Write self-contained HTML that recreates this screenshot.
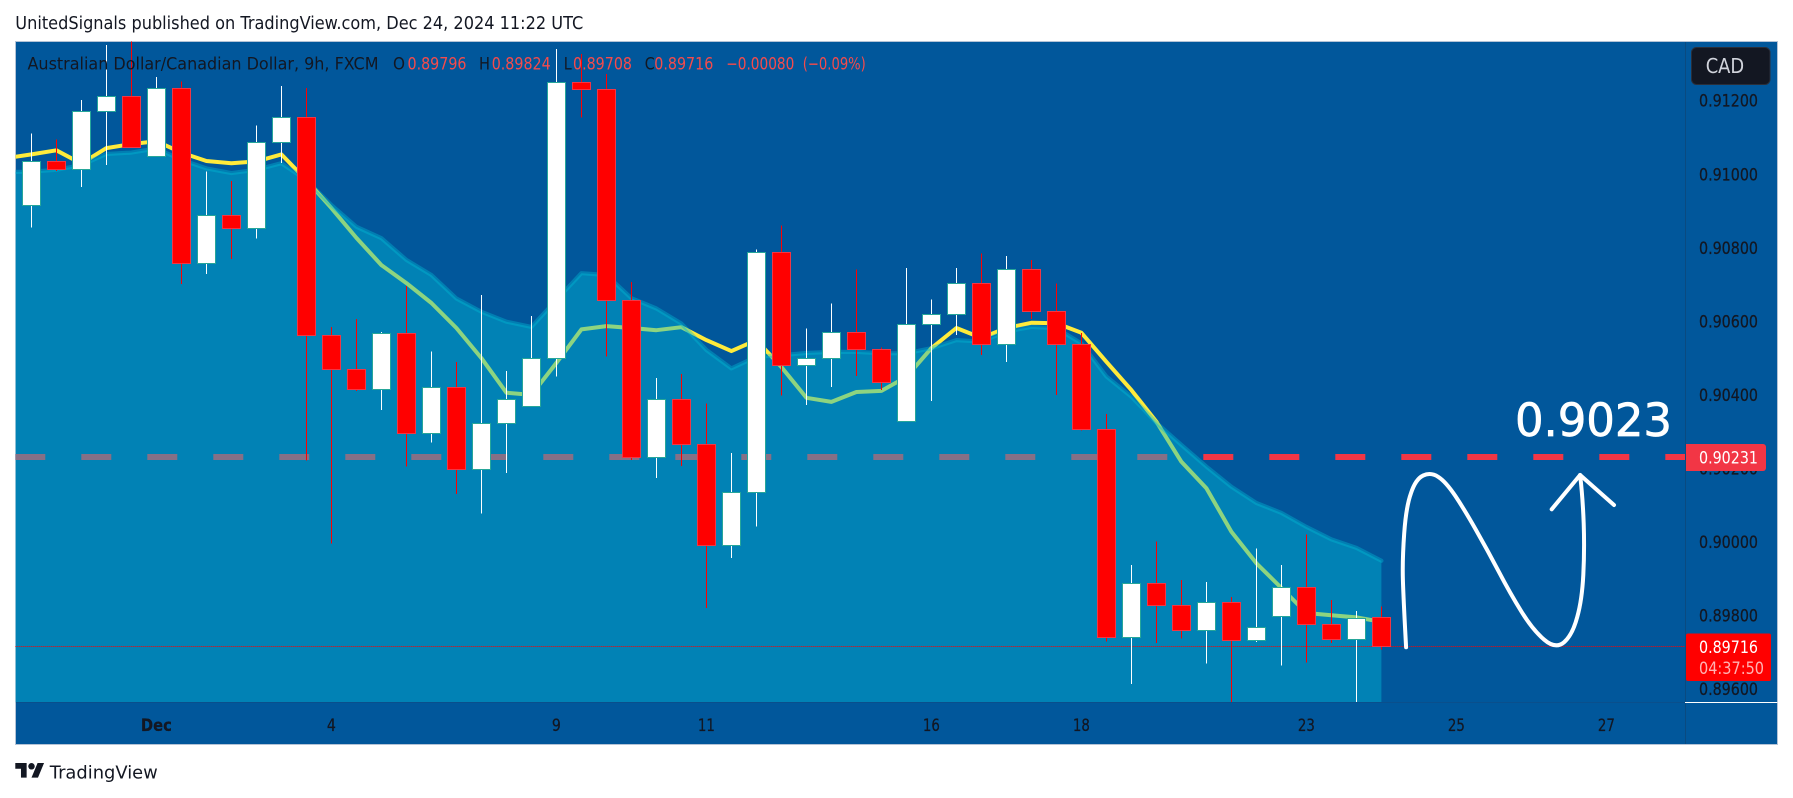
<!DOCTYPE html>
<html lang="en">
<head>
<meta charset="utf-8">
<title>AUD/CAD 9h chart</title>
<style>
html,body{margin:0;padding:0;background:#fff;width:1793px;height:798px;overflow:hidden}
svg{display:block}
text{font-family:"DejaVu Sans","Liberation Sans",sans-serif}
</style>
</head>
<body>
<svg id="chart" xmlns="http://www.w3.org/2000/svg" width="1793" height="798" viewBox="0 0 1793 798">
  <defs>
    <clipPath id="pane-clip"><rect x="15.5" y="41.5" width="1669.5" height="661"/></clipPath>
  </defs>
  <rect x="0" y="0" width="1793" height="798" fill="#ffffff"/>
  <text x="15.3" y="29" font-size="18" fill="#131722" textLength="568" lengthAdjust="spacingAndGlyphs">UnitedSignals published on TradingView.com, Dec 24, 2024 11:22 UTC</text>
  <rect x="15.5" y="41.5" width="1762" height="703" fill="#01579b" stroke="#b4c3d6" stroke-width="1"/>
  <g id="pane" clip-path="url(#pane-clip)"></g>
  <line x1="1685.5" y1="42" x2="1685.5" y2="744" stroke="#0a4a80" stroke-width="1"/>
  <line x1="16" y1="702.5" x2="1685" y2="702.5" stroke="#0a4f8c" stroke-width="1"/>
  <line x1="1685" y1="702.5" x2="1777.5" y2="702.5" stroke="#ffffff" stroke-width="1"/>
  <g id="price-axis"></g>
  <g id="time-axis"></g>

  <g font-size="17">
    <text x="27.5" y="69.5" fill="#131722" textLength="351" lengthAdjust="spacingAndGlyphs">Australian Dollar/Canadian Dollar, 9h, FXCM</text>
    <text x="393" y="69.5" fill="#131722" textLength="12" lengthAdjust="spacingAndGlyphs">O</text>
    <text x="407.5" y="69.5" fill="#f54b4b" textLength="59" lengthAdjust="spacingAndGlyphs">0.89796</text>
    <text x="479" y="69.5" fill="#131722" textLength="11" lengthAdjust="spacingAndGlyphs">H</text>
    <text x="491.7" y="69.5" fill="#f54b4b" textLength="59" lengthAdjust="spacingAndGlyphs">0.89824</text>
    <text x="563.7" y="69.5" fill="#131722" textLength="8" lengthAdjust="spacingAndGlyphs">L</text>
    <text x="573" y="69.5" fill="#f54b4b" textLength="59" lengthAdjust="spacingAndGlyphs">0.89708</text>
    <text x="644.8" y="69.5" fill="#131722" textLength="10" lengthAdjust="spacingAndGlyphs">C</text>
    <text x="654.3" y="69.5" fill="#f54b4b" textLength="59" lengthAdjust="spacingAndGlyphs">0.89716</text>
    <text x="726.3" y="69.5" fill="#f54b4b" textLength="68" lengthAdjust="spacingAndGlyphs">−0.00080</text>
    <text x="802.8" y="69.5" fill="#f54b4b" textLength="63" lengthAdjust="spacingAndGlyphs">(−0.09%)</text>
  </g>

  <g>
    <rect x="1691.5" y="47.5" width="78.5" height="37" rx="5" ry="5" fill="#131722" stroke="#2a2e39" stroke-width="1"/>
    <text x="1705.7" y="73" font-size="20" fill="#d1d4dc" textLength="38.5" lengthAdjust="spacingAndGlyphs">CAD</text>
  </g>

  <g id="target-badge">
    <path d="M1686 444H1763a3 3 0 0 1 3 3V468a3 3 0 0 1 -3 3H1686Z" fill="#f23645"/>
    <text id="target-badge-text" x="1699" y="463.5" font-size="17" fill="#ffffff" textLength="59" lengthAdjust="spacingAndGlyphs">0.90231</text>
  </g>
  <g>
    <rect x="1686" y="633.5" width="85" height="47.5" rx="2" ry="2" fill="#ff0000"/>
    <text x="1699" y="653" font-size="17" fill="#ffffff" textLength="59" lengthAdjust="spacingAndGlyphs">0.89716</text>
    <text x="1699" y="674" font-size="17" fill="#ffb3b3" textLength="65" lengthAdjust="spacingAndGlyphs">04:37:50</text>
  </g>

  <g>
    <path d="M1406.1 647.3Q1403.5 600 1402.9 580Q1402.3 560 1404.2 533.4Q1406.1 506.7 1410.9 493.4Q1415.6 479 1423.2 475.5Q1430.7 472 1438.3 476.9Q1445.8 481.7 1455.3 495.9Q1464.7 510 1476 530Q1487.4 550 1498.8 571.7Q1510.1 593.3 1521.5 611.7Q1532.8 630 1544.2 639.7Q1555.5 649.5 1564 642.3Q1572.5 635 1577.3 616.7Q1582 600 1583.3 575Q1584.6 550 1583.7 523.4Q1582.7 496.7 1580.1 475" fill="none" stroke="#ffffff" stroke-width="4" stroke-linecap="round" stroke-linejoin="round"/>
    <path d="M1551.7 509.3L1580.1 475L1614 505" fill="none" stroke="#ffffff" stroke-width="4" stroke-linecap="round" stroke-linejoin="round"/>
    <text x="1515" y="436" font-size="45" fill="#ffffff" stroke="#ffffff" stroke-width="0.7" textLength="157" lengthAdjust="spacing">0.9023</text>
  </g>

  <g>
    <g transform="translate(15.3 759.8) scale(0.81)" fill="#131722">
      <path d="M14 22H7V11H0V4h14v18zM28 22h-8l7.5-18h8L28 22z"/>
      <circle cx="20" cy="8" r="4"/>
    </g>
    <text x="49.8" y="778.5" font-size="18" fill="#131722" textLength="108" lengthAdjust="spacingAndGlyphs">TradingView</text>
  </g>
</svg>

<script>
const opens = [
  0.90916,0.91037,0.91013,0.91173,0.91214,0.91050,0.91234,0.90759,0.90890,0.90855,
  0.91089,0.91155,0.90562,0.90470,0.90415,0.90569,0.90296,0.90422,0.90198,0.90323,
  0.90370,0.90499,0.91252,0.91231,0.90657,0.90230,0.90390,0.90266,0.89991,0.90135,
  0.90789,0.90480,0.90499,0.90572,0.90524,0.90329,0.90592,0.90619,0.90705,0.90538,
  0.90743,0.90629,0.90538,0.90308,0.89741,0.89889,0.89828,0.89760,0.89838,0.89733,
  0.89798,0.89878,0.89776,0.89736,0.89796];
const highs = [
  0.91111,0.91095,0.91202,0.91351,0.91380,0.91264,0.91252,0.91008,0.90981,0.91133,
  0.91240,0.91234,0.90584,0.90606,0.90571,0.90696,0.90518,0.90489,0.90671,0.90465,
  0.90614,0.91340,0.91327,0.91273,0.90707,0.90446,0.90457,0.90377,0.90242,0.90796,
  0.90861,0.90581,0.90649,0.90741,0.90529,0.90745,0.90660,0.90745,0.90785,0.90778,
  0.90767,0.90703,0.90569,0.90348,0.89937,0.90002,0.89896,0.89891,0.89851,0.89983,
  0.89937,0.90021,0.89842,0.89812,0.89824];
const lows = [
  0.90855,0.91009,0.90966,0.91025,0.91075,0.91050,0.90702,0.90729,0.90769,0.90825,
  0.91031,0.90221,0.89996,0.90411,0.90359,0.90205,0.90270,0.90131,0.90077,0.90188,
  0.90370,0.90450,0.91155,0.90504,0.90223,0.90174,0.90207,0.89821,0.89957,0.90042,
  0.90398,0.90373,0.90422,0.90452,0.90413,0.90329,0.90383,0.90563,0.90508,0.90489,
  0.90606,0.90400,0.90303,0.89730,0.89614,0.89725,0.89737,0.89670,0.89500,0.89728,
  0.89664,0.89672,0.89726,0.89500,0.89708];
const closes = [
  0.91037,0.91013,0.91173,0.91214,0.91075,0.91234,0.90759,0.90890,0.90855,0.91089,
  0.91155,0.90562,0.90470,0.90415,0.90569,0.90296,0.90422,0.90198,0.90323,0.90390,
  0.90499,0.91252,0.91231,0.90657,0.90230,0.90390,0.90266,0.89991,0.90135,0.90789,
  0.90480,0.90499,0.90572,0.90524,0.90434,0.90592,0.90619,0.90705,0.90538,0.90743,
  0.90629,0.90538,0.90308,0.89741,0.89889,0.89828,0.89760,0.89838,0.89733,0.89770,
  0.89878,0.89776,0.89736,0.89794,0.89716];
/* moving averages start one bar before the first visible candle */
const fastAverage = [
  0.91044,
  0.91054,0.91065,0.91029,0.91071,0.91082,0.91090,0.91059,0.91036,0.91030,0.91035,
  0.91054,0.90984,0.90908,0.90827,0.90753,0.90704,0.90650,0.90582,0.90500,0.90406,
  0.90400,0.90487,0.90578,0.90587,0.90582,0.90576,0.90584,0.90549,0.90519,0.90549,
  0.90476,0.90392,0.90381,0.90408,0.90411,0.90449,0.90527,0.90582,0.90555,0.90582,
  0.90596,0.90595,0.90569,0.90490,0.90413,0.90327,0.90218,0.90146,0.90028,0.89942,
  0.89875,0.89807,0.89801,0.89795,0.89783];
const slowAverage = [
  0.91006,
  0.91007,0.91012,0.91025,0.91055,0.91059,0.91070,0.91039,0.91016,0.91003,0.91012,
  0.91030,0.90984,0.90916,0.90857,0.90826,0.90767,0.90726,0.90662,0.90626,0.90599,
  0.90585,0.90658,0.90731,0.90726,0.90663,0.90635,0.90594,0.90522,0.90472,0.90504,
  0.90508,0.90514,0.90517,0.90517,0.90513,0.90513,0.90527,0.90549,0.90545,0.90572,
  0.90585,0.90581,0.90540,0.90450,0.90395,0.90324,0.90264,0.90205,0.90150,0.90106,
  0.90079,0.90041,0.90007,0.89984,0.89949];
const priceTicks = [0.912,0.910,0.908,0.906,0.904,0.902,0.900,0.898,0.896];
const timeTickBars = [5,12,21,27,36,42,51,57,63];
const timeTickLabels = ["Dec","4","9","11","16","18","23","25","27"];
const targetPrice = 0.90231;
const lastPrice = 0.89716;

const NS = "http://www.w3.org/2000/svg";
function xOf(i){ return 31.4 + 25 * i; }
function yOf(p){ return 100.7 + (0.912 - p) * 36775; }
const PANE_BOTTOM = 702.7;
const pane = document.getElementById("pane");
const priceAxis = document.getElementById("price-axis");
const timeAxis = document.getElementById("time-axis");
function mk(tag, parent, attrs){
  const el = document.createElementNS(NS, tag);
  for (const k in attrs) el.setAttribute(k, attrs[k]);
  parent.appendChild(el);
  return el;
}
function pathFrom(series){
  return series.map(function(p, k){
    return (k ? "L" : "M") + xOf(k - 1).toFixed(1) + " " + yOf(p).toFixed(1);
  }).join("");
}

/* target level, drawn under the translucent area */
const targetY = Math.round(yOf(targetPrice) * 2) / 2;
const targetLine = mk("line", pane, {x1:15.3, y1:targetY, x2:1685, y2:targetY, stroke:"#f23645", "stroke-width":6, "stroke-dasharray":"30 36"});



/* fast average */
const fastLine = mk("path", pane, {d:pathFrom(fastAverage), fill:"none", stroke:"#ffeb3b", "stroke-width":4, "stroke-linejoin":"round"});



/* slow average area */
const slowPath = pathFrom(slowAverage);
const lastX = xOf(slowAverage.length - 2).toFixed(1);
const firstX = xOf(-1).toFixed(1);
const areaFill = mk("path", pane, {d:slowPath + "L" + lastX + " " + PANE_BOTTOM + "L" + firstX + " " + PANE_BOTTOM + "Z", fill:"#03b8d4", "fill-opacity":0.45, stroke:"none"});


const areaLine = mk("path", pane, {d:slowPath, fill:"none", stroke:"#03b8d4", "stroke-opacity":0.4, "stroke-width":4.2, "stroke-linejoin":"round", "stroke-linecap":"round"});



/* last price dotted line */
const lastY = Math.round(yOf(lastPrice)) + 0.5;
const lastLine = mk("line", pane, {x1:15.3, y1:lastY, x2:1685, y2:lastY, stroke:"#ff0000", "stroke-width":1, "stroke-dasharray":"1 1"});



/* candles */
opens.forEach(function(o, i){
  const c = closes[i], up = c >= o;
  const cx = Math.round(xOf(i));
  const top = Math.round(yOf(Math.max(o, c)));
  const bottom = Math.round(yOf(Math.min(o, c)));
  const wick = mk("rect", pane, {x:cx, y:yOf(highs[i]).toFixed(1), width:1, height:(yOf(lows[i]) - yOf(highs[i])).toFixed(1), fill:up ? "#ffffff" : "#ff0000", "shape-rendering":"crispEdges"});
  
  
  const body = mk("rect", pane, {x:cx - 8.5, y:top + 0.5, width:18, height:Math.max(bottom - top, 1), fill:up ? "#ffffff" : "#ff0000", stroke:up ? "#26a69a" : "#f23645", "stroke-width":1, "shape-rendering":"crispEdges"});
  
  
});

/* price axis labels (the 0.90200 label sits behind the target badge) */
priceTicks.forEach(function(p){
  const t = mk("text", priceAxis, {x:1699, y:(yOf(p) + 6).toFixed(1), "font-size":17, fill:"#131722", stroke:"#131722", "stroke-width":0.25, textLength:59, lengthAdjust:"spacingAndGlyphs"});
  t.textContent = p.toFixed(5);
  
  
});

/* time axis labels */
timeTickBars.forEach(function(b, k){
  const label = timeTickLabels[k];
  const t = mk("text", timeAxis, {x:xOf(b).toFixed(1), y:731, "font-size":17, fill:"#131722", stroke:"#131722", "stroke-width":0.25, "text-anchor":"middle", "font-weight":label === "Dec" ? "700" : "400", textLength:label === "Dec" ? 31 : (label.length === 1 ? 9 : 17), lengthAdjust:"spacingAndGlyphs"});
  t.textContent = label;
  
  
});
</script>
</body>
</html>
